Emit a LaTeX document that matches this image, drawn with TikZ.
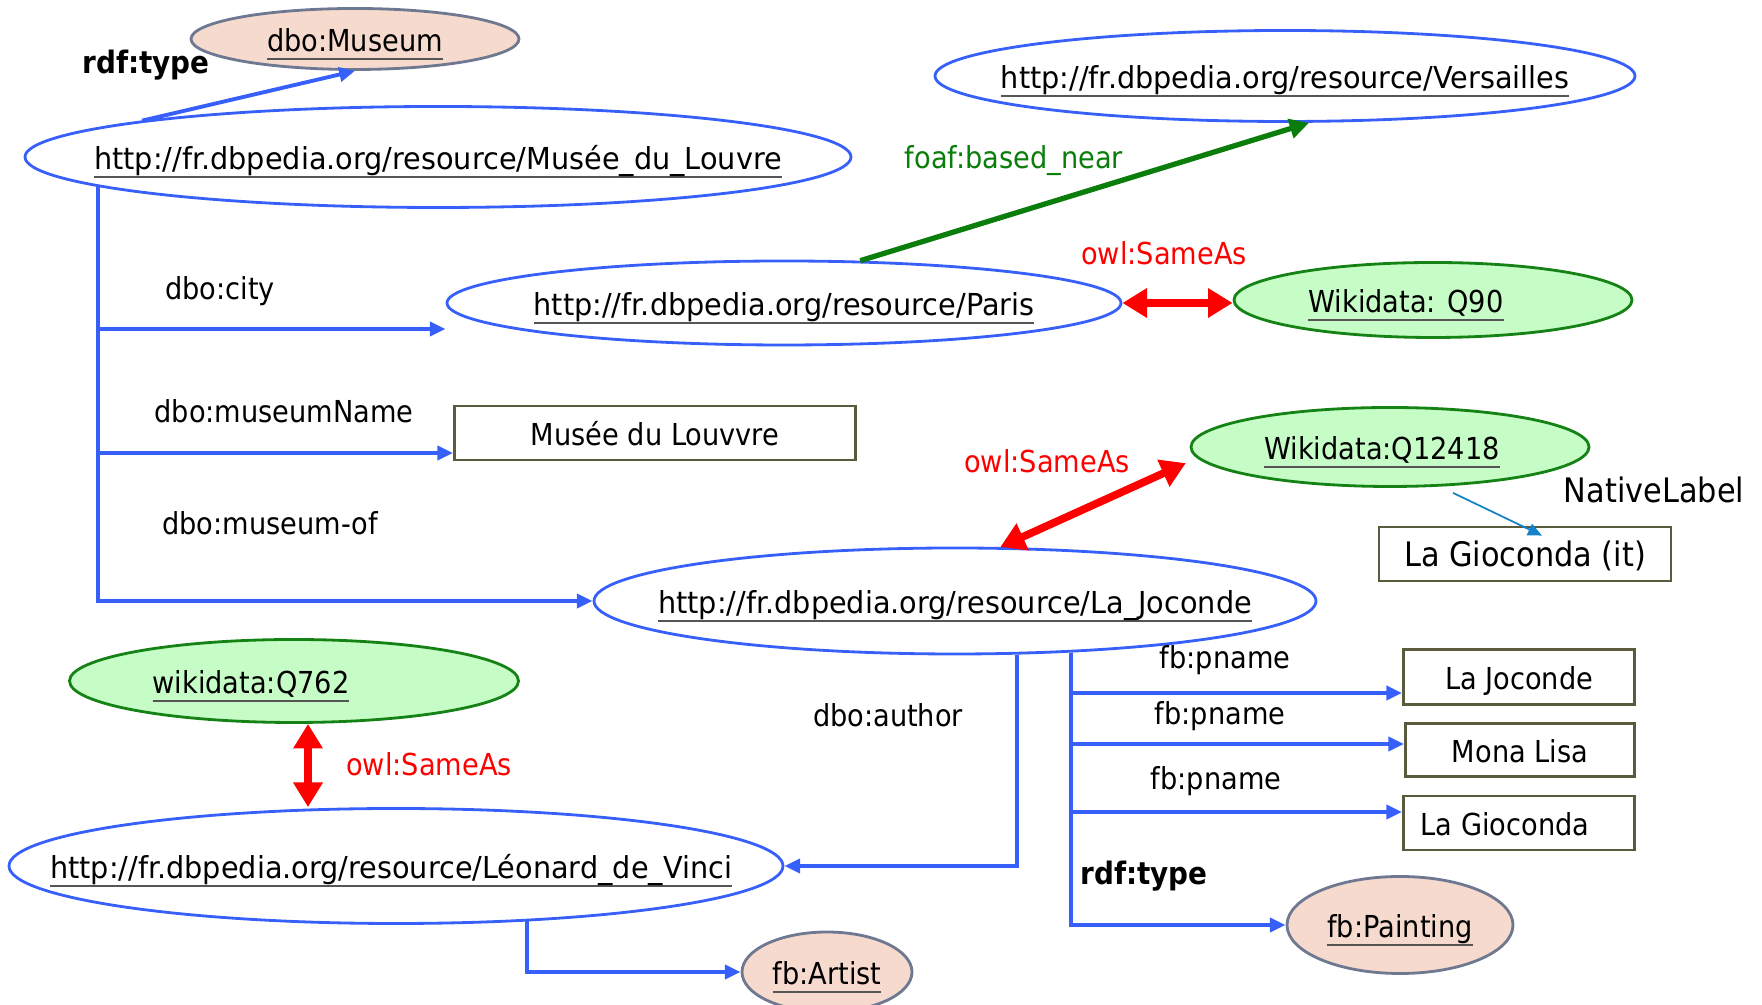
\documentclass[tikz,border=0pt]{standalone}
\usepackage{fontspec}
\setmainfont{DejaVu Sans}[FakeStretch=0.9]
\newfontfamily\urlfont{DejaVu Sans}[FakeStretch=0.95]
\usepackage{tikz}
\usetikzlibrary{shapes.geometric, arrows.meta, positioning, calc}
\definecolor{linkblue}{RGB}{55,95,250}
\definecolor{wikiline}{RGB}{20,130,20}
\definecolor{wikifill}{RGB}{198,252,198}
\definecolor{clsline}{RGB}{110,120,145}
\definecolor{clsfill}{RGB}{245,218,205}
\definecolor{litline}{RGB}{90,90,60}
\definecolor{nearline}{RGB}{10,125,10}
\definecolor{nativeline}{RGB}{20,130,200}
\definecolor{uline}{RGB}{85,85,85}
% underlined resource name, grey rule
\newcommand{\uri}[1]{\setbox0\hbox{#1}\rlap{\color{uline}\rule[-2.3pt]{\wd0}{0.6pt}}\box0}

\begin{document}
\begin{tikzpicture}[
    x=0.1mm, y=-0.1mm,
    font=\fontsize{8.6}{10}\selectfont,
    every node/.style={inner sep=0pt},
    shaped/.style={inner xsep=-80mm, inner ysep=-10mm, text height=0.72em, text depth=0pt, line width=0.8pt},
    res/.style={ellipse, shaped, draw=linkblue, font=\fontsize{8.6}{10}\urlfont},
    wiki/.style={ellipse, shaped, draw=wikiline, fill=wikifill},
    cls/.style={ellipse, shaped, draw=clsline, fill=clsfill},
    lit/.style={rectangle, shaped, draw=litline},
    arr/.style={draw=linkblue, line width=1.1pt, -{Triangle[length=4.5pt,width=4pt]}},
    same/.style={draw=red, line width=2.2pt, {Triangle[length=7pt,width=8pt]}-{Triangle[length=7pt,width=8pt]}},
    based/.style={draw=nearline, line width=1.5pt, -{Triangle[length=5.5pt,width=5.5pt]}},
    native/.style={draw=nativeline, line width=0.5pt, -{Triangle[length=4pt,width=3.5pt]}},
    sameas/.style={text=red},
    prop/.style={text=black}
]
    \useasboundingbox (0,0) rectangle (1762,1005);

    % resources
    \node[cls, minimum width=32.8mm, minimum height=6.1mm] (museum) at (355,39) {\uri{dbo:Museum}};
    \node[res, minimum width=82.6mm, minimum height=10.1mm] (louvre) at (438,157) {\uri{http://fr.dbpedia.org/resource/Musée\_du\_Louvre}};
    \node[res, minimum width=70mm, minimum height=9.1mm] (versailles) at (1285,76) {\uri{http://fr.dbpedia.org/resource/Versailles}};
    \node[res, minimum width=67.4mm, minimum height=8.4mm] (paris) at (784,303) {\uri{http://fr.dbpedia.org/resource/Paris}};
    \node[wiki, minimum width=39.8mm, minimum height=7.5mm] (q90) at (1433,300) {\uri{Wikidata: Q90}\kern5.4mm};
    \node[lit, minimum width=40.1mm, minimum height=5.4mm] (mname) at (655,433) {Musée du Louvvre};
    \node[wiki, minimum width=39.8mm, minimum height=7.9mm] (q12418) at (1390,447) {\uri{Wikidata:Q12418}\kern1.6mm};
    \node[lit, minimum width=29.2mm, minimum height=5.4mm, font=\fontsize{9.6}{11}\selectfont] (gioit) at (1525,554) {La Gioconda (it)};
    \node[res, minimum width=72.2mm, minimum height=10.6mm] (joconde) at (955,601) {\uri{http://fr.dbpedia.org/resource/La\_Joconde}};
    \node[wiki, minimum width=44.9mm, minimum height=8.3mm] (q762) at (294,681) {\uri{wikidata:Q762}\kern8.6mm};
    \node[res, minimum width=77.4mm, minimum height=11.5mm] (leonard) at (396,866) {\uri{http://fr.dbpedia.org/resource/Léonard\_de\_Vinci}\kern1mm};
    \node[lit, minimum width=23.1mm, minimum height=5.5mm] (pjoconde) at (1519,677) {La Joconde};
    \node[lit, minimum width=22.9mm, minimum height=5.3mm] (pmona) at (1520,750) {Mona Lisa};
    \node[lit, minimum width=23.1mm, minimum height=5.4mm] (pgio) at (1519,823) {La Gioconda\kern2.8mm};
    \node[cls, minimum width=22.6mm, minimum height=9.7mm] (painting) at (1400,925) {\uri{fb:Painting}};
    \node[cls, minimum width=17mm, minimum height=8mm] (artist) at (827,972) {\uri{fb:Artist}};

    % labels
    \node[prop, font=\fontsize{8.8}{10}\bfseries] (ltype1) at (146,65) {rdf:type};
    \node[text=nearline] (lnear) at (1014,161) {foaf:based\_near};
    \node[sameas] (lsame1) at (1164,253) {owl:SameAs};
    \node[prop] (lcity) at (220,291) {dbo:city};
    \node[prop] (lname) at (284,411) {dbo:museumName};
    \node[prop] (lof) at (270,523) {dbo:museum-of};
    \node[sameas] (lsame2) at (1047,461) {owl:SameAs};
    \node[prop, font=\fontsize{9.6}{11}\selectfont] (lnative) at (1654,490) {NativeLabel};
    \node[sameas] (lsame3) at (429,764) {owl:SameAs};
    \node[prop] (lauthor) at (888,715) {dbo:author};
    \node[prop] (lpn1) at (1225,660) {fb:pname};
    \node[prop] (lpn2) at (1220,716) {fb:pname};
    \node[prop] (lpn3) at (1216,781) {fb:pname};
    \node[prop, font=\fontsize{8.8}{10}\bfseries] (ltype2) at (1144,876) {rdf:type};

    % trunks
    \coordinate (lv) at (louvre.185);
    \coordinate (cityend) at ([yshift=-2.6mm]paris.west);
    \coordinate (nameend) at ([yshift=-2mm]mname.west);
    \coordinate (ja) at (joconde.-41);
    \coordinate (jt) at (joconde.-24);
    \coordinate (la) at (leonard.-23);
    \coordinate (qs) at ([xshift=1.4mm]q762.south);
    \coordinate (qw) at ([xshift=-2mm]q12418.185);
    \coordinate (p1) at ([yshift=-1.6mm]pjoconde.west);
    \coordinate (p2) at ([yshift=0.6mm]pmona.west);
    \coordinate (p3) at ([yshift=1.1mm]pgio.west);

    \draw[arr] (louvre.173) -- (museum.south);
    \draw[arr] (lv) |- (joconde.west);
    \draw[arr] (lv |- cityend) -- (cityend);
    \draw[arr] (lv |- nameend) -- (nameend);
    \draw[based] (paris.29) -- ([xshift=2.4mm]versailles.south);
    \draw[same] (paris.east) -- (paris.east -| q90.west);
    \draw[same] (joconde.50) -- (qw);
    \draw[native] ([xshift=6.3mm,yshift=-0.5mm]q12418.south) -- ([xshift=1.7mm,yshift=-1mm]gioit.north);
    \draw[same] (qs) -- (qs |- leonard.north);
    \draw[arr] (ja) |- (leonard.east);
    \draw[arr] (jt) |- (painting.west);
    \draw[arr] (jt |- p1) -- (p1);
    \draw[arr] (jt |- p2) -- (p2);
    \draw[arr] (jt |- p3) -- (p3);
    \draw[arr] (la) |- (artist.west);
\end{tikzpicture}
\end{document}
